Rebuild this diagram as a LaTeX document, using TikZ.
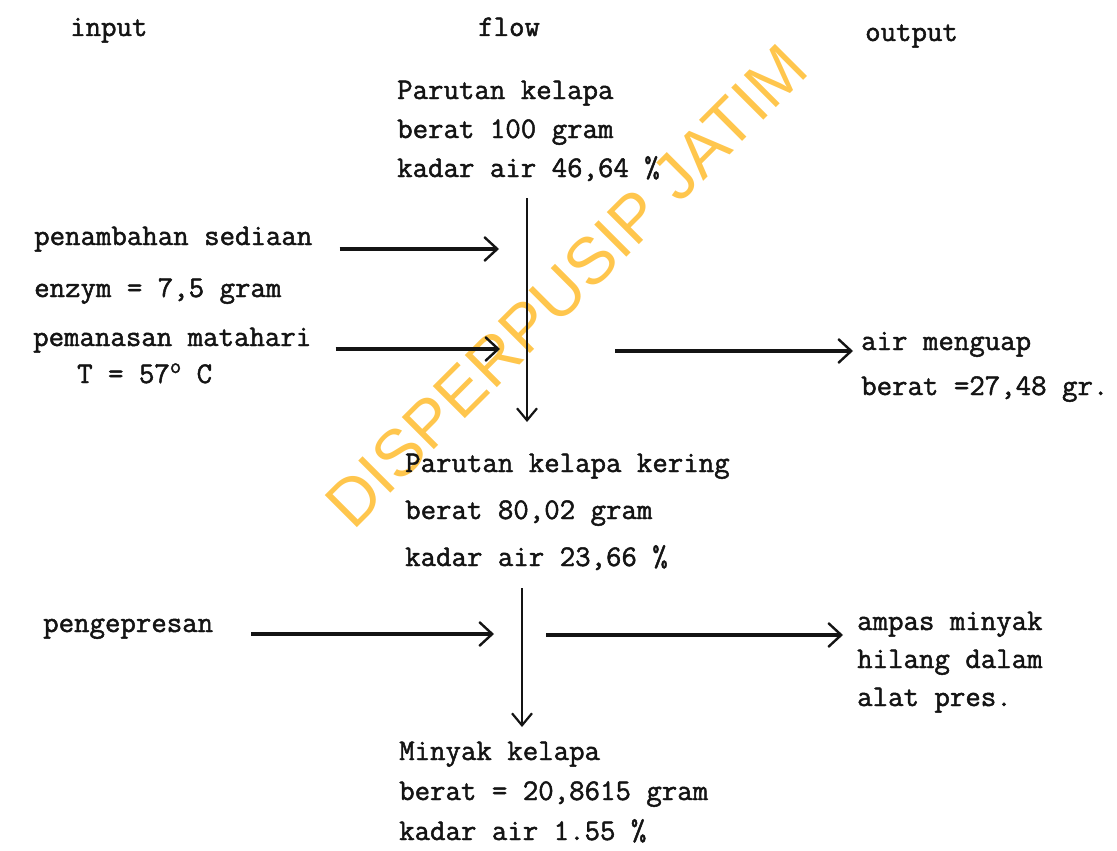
\documentclass[tikz,border=0pt]{standalone}
\usepackage{fontspec}
\newfontfamily\wmfont{Liberation Sans}
\newfontfamily\typefont[FakeBold=1.6]{Latin Modern Mono}
\usetikzlibrary{arrows.meta}
\definecolor{ink}{HTML}{141414}
\definecolor{wmorange}{HTML}{FFC64D}
\tikzset{
  txt/.style={font=\fontsize{30}{40}\typefont, text=ink, align=left, inner sep=0pt, anchor=base west},
  head/.style={font=\fontsize{30}{40}\typefont, text=ink, inner sep=0pt, anchor=base west},
  arrow/.style={-{Straight Barb[length=13pt,width=24pt,line width=2.4pt]}, line width=3.6pt, draw=ink},
  flowline/.style={-{Straight Barb[length=12pt,width=20pt,line width=2.2pt]}, line width=2.6pt, draw=ink},
  stamp/.style={font=\wmfont\fontsize{66}{66}\selectfont, text=wmorange, inner sep=0pt, rotate=45}
}

\begin{document}
\begin{tikzpicture}[x=1pt, y=-1pt]
  \useasboundingbox (0,0) rectangle (1117,851);

  % watermark below everything
  \node[stamp] (wm) at (566,286) {DISPERPUSIP JATIM};

  \node[head] (input) at (70,36) {input};
  \node[head] (flow) at (478,36) {flow};
  \node[head] (output) at (865,41) {output};

  % flow column (base = last line)
  \node[txt, font=\fontsize{30}{39}\typefont] (raw) at (397,177) {Parutan kelapa\\berat 100 gram\\kadar air 46,64 \%};
  \node[txt, font=\fontsize{30}{47}\typefont] (dry) at (405,566) {Parutan kelapa kering\\berat 80,02 gram\\kadar air 23,66 \%};
  \node[txt, font=\fontsize{30}{40}\typefont] (oil) at (399,840) {Minyak kelapa\\berat = 20,8615 gram\\kadar air 1.55 \%};

  % inputs
  \node[txt, font=\fontsize{30}{52}\typefont] (enzym) at (34,297) {penambahan sediaan\\enzym = 7,5 gram};
  \node[txt, font=\fontsize{30}{37}\typefont] (heat) at (33,383) {pemanasan matahari\\\hspace*{44pt}T = 57\raisebox{10pt}{\fontsize{22}{22}\typefont o} C};
  \node[txt] (press) at (43,632) {pengepresan};

  % outputs
  \node[txt, font=\fontsize{30}{45}\typefont] (vapour) at (861,395) {air menguap\\berat =27,48 gr.};
  \node[txt, font=\fontsize{30}{38}\typefont] (waste) at (857,706) {ampas minyak\\hilang dalam\\alat pres.};

  \coordinate (f1a) at (527,198);
  \coordinate (f1b) at (527,422);
  \coordinate (f2a) at (522,588);
  \coordinate (f2b) at (522,727);

  \coordinate (i1) at (499,249);
  \coordinate (i2) at (500,349);
  \coordinate (i3) at (494,634);
  \coordinate (o1s) at (615,351);
  \coordinate (o2s) at (546,635);

  \draw[flowline] (f1a) -- (f1b);
  \draw[flowline] (f2a) -- (f2b);

  \draw[arrow] (enzym.east |- i1) ++(27,0) -- (i1);
  \draw[arrow] (heat.east |- i2) ++(24,0) -- (i2);
  \draw[arrow] (press.east |- i3) ++(38,0) -- (i3);
  \draw[arrow] (o1s) -- ([xshift=-8pt]vapour.west |- o1s);
  \draw[arrow] (o2s) -- ([xshift=-14pt]waste.west |- o2s);
\end{tikzpicture}
\end{document}
